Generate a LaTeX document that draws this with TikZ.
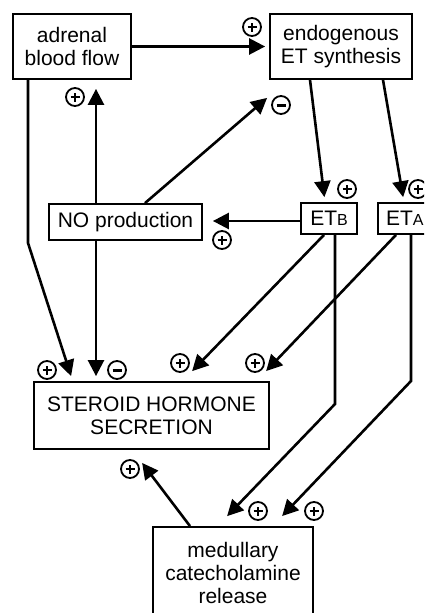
\documentclass[tikz,border=0pt]{standalone}
\usepackage{fontspec}
\setmainfont{Liberation Sans}
\usetikzlibrary{arrows.meta,calc}
\tikzset{
  box/.style={draw, line width=1.8pt, align=center, inner sep=0pt,
    font=\fontsize{21}{23}\selectfont},
  arr/.style={line width=2.6pt, -{Triangle[length=16pt,width=16pt]}},
  sgn/.style={circle, draw, line width=1.8pt, minimum size=18pt, inner sep=0pt},
  plussign/.style={sgn, path picture={
      \draw[line width=2.6pt] ([xshift=-4.5pt]path picture bounding box.center) -- ++(9pt,0);
      \draw[line width=2.6pt] ([yshift=-4.5pt]path picture bounding box.center) -- ++(0,9pt);}},
  minussign/.style={sgn, path picture={
      \draw[line width=3pt] ([xshift=-4.5pt]path picture bounding box.center) -- ++(9pt,0);}}
}
\newcommand{\smallsub}[1]{{\fontsize{16}{16}\selectfont #1}}
\begin{document}
\begin{tikzpicture}[x=1pt,y=-1pt]
\useasboundingbox (0,0) rectangle (424,613);
\clip (0,0) rectangle (424,613);
\fill[white] (0,0) rectangle (424,613);
% nodes
\node[box, minimum width=118pt, minimum height=65pt] (abf) at (72,46.5) {adrenal\\blood flow};
\node[box, minimum width=142pt, minimum height=65pt] (ets) at (341,46.5) {endogenous\\ET synthesis};
\node[box, minimum width=153pt, minimum height=36pt] (no) at (125.5,222) {NO production};
\node[box, minimum width=56pt, minimum height=31pt] (etb) at (329,218.5) {ET\smallsub{B}};
\node[box, minimum width=62pt, minimum height=31pt, text width=56pt, align=left] (eta) at (409,218.5) {\hspace*{5pt}ET\smallsub{A}};
\node[box, minimum width=235pt, minimum height=67pt] (sh) at (151.5,415.5) {STEROID HORMONE\\SECRETION};
\node[box, minimum width=160pt, minimum height=91pt] (med) at (233,572.5) {medullary\\catecholamine\\release};
% helper coordinates
\coordinate (x28) at (28,0);
\coordinate (x96) at (96,0);
\coordinate (x145) at (145,0);
\coordinate (x310) at (310,0);
\coordinate (x325) at (325,0);
\coordinate (x383) at (383,0);
\coordinate (x404) at (404,0);
\coordinate (x324) at (324,0);
\coordinate (x396) at (396,0);
\coordinate (x335) at (335,0);
\coordinate (x411) at (411,0);
\coordinate (x190) at (190,0);
\coordinate (y221) at (0,221);
\coordinate (bend1) at (28,243);
\coordinate (bend2) at (335,404);
\coordinate (bend3) at (411,381);
% connectors
\draw[arr, shorten >=4pt] (abf.east) -- (ets.west);
\draw[arr, shorten >=9pt] (no.north -| x96) -- (abf.south -| x96);
\draw[arr] (no.north -| x145) -- ($(ets.south west)+(-2,18)$);
\draw[arr, shorten >=5pt] (ets.south -| x310) -- (etb.north -| x325);
\draw[arr, shorten >=5pt] (ets.south -| x383) -- (eta.north -| x404);
\draw[arr, shorten >=10pt] (etb.west |- y221) -- (no.east |- y221);
\draw[arr] (abf.south -| x28) -- (bend1) -- ($(sh.north west)+(38,-5)$);
\draw[arr, shorten >=5pt] (no.south -| x96) -- (sh.north -| x96);
\draw[arr] (etb.south -| x324) -- ($(sh.north west)+(159,-10)$);
\draw[arr] (eta.south -| x396) -- ($(sh.north west)+(233,-10)$);
\draw[arr] (etb.south -| x335) -- (bend2) -- ($(med.north west)+(75,-10)$);
\draw[arr] (eta.south -| x411) -- (bend3) -- ($(med.north west)+(130,-10)$);
\draw[arr] (med.north -| x190) -- ($(sh.south west)+(109,13)$);
% signs
\node[plussign] (s1) at (252,27) {};
\node[plussign] (s2) at (75,97) {};
\node[minussign] (s3) at (281,105) {};
\node[plussign] (s4) at (347,189) {};
\node[plussign] (s5) at (418,189) {};
\node[plussign] (s6) at (222,240) {};
\node[plussign] (s7) at (47,370) {};
\node[minussign] (s8) at (117,370) {};
\node[plussign] (s9) at (180,363) {};
\node[plussign] (s10) at (255,363) {};
\node[plussign] (s11) at (258,511) {};
\node[plussign] (s12) at (314,511) {};
\node[plussign] (s13) at (130,469) {};
\end{tikzpicture}
\end{document}
